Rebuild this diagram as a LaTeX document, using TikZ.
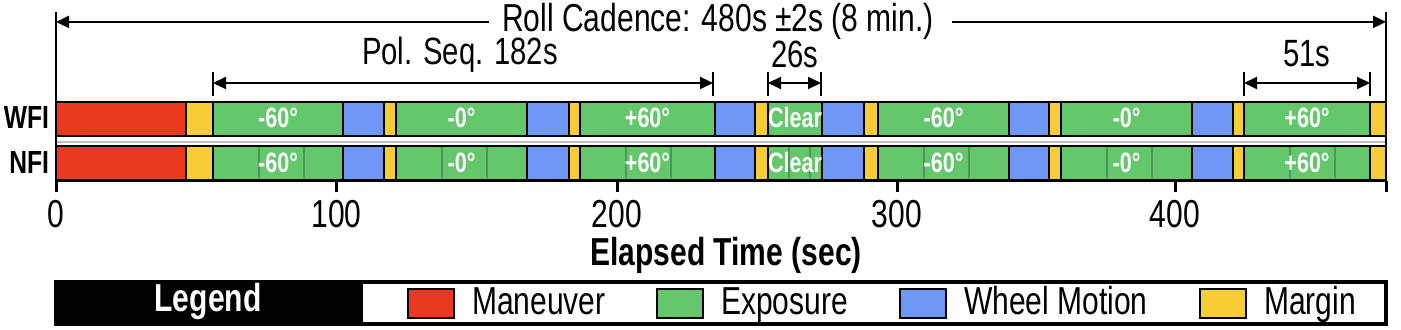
\documentclass[tikz,border=0pt]{standalone}
\usepackage{fontspec}
\setmainfont{Liberation Sans}[FakeStretch=0.77]
\usetikzlibrary{arrows.meta}
\definecolor{maneuver}{RGB}{233,58,31}
\definecolor{exposure}{RGB}{100,199,108}
\definecolor{wheel}{RGB}{111,152,246}
\definecolor{margin}{RGB}{246,205,55}
\definecolor{divider}{RGB}{78,148,94}
\tikzset{
  seg/.style={draw=black,line width=1.4pt},
  txt/.style={inner sep=0pt,outer sep=0pt,anchor=base,font=\fontsize{19.5}{23.4}\selectfont},
  rowlbl/.style={inner sep=0pt,outer sep=0pt,anchor=base east,font=\bfseries\fontsize{16}{19.2}\selectfont},
  seglbl/.style={inner sep=0pt,outer sep=0pt,anchor=base,text=white,font=\bfseries\fontsize{14}{16.8}\selectfont},
  dim/.style={line width=1pt,{Triangle[length=6.5pt,width=6pt]}-{Triangle[length=6.5pt,width=6pt]}},
  tip/.style={line width=1pt,-{Triangle[length=6.5pt,width=6pt]}},
  bar/.style={line width=1pt},
  swatch/.style={draw=black,line width=1pt},
}
\begin{document}
\begin{tikzpicture}[x=.5pt,y=-.5pt]
\path[use as bounding box] (0,0) rectangle (1401,330);
% timeline bars
\foreach \yt/\yb in {102/136,146/180}{
  \foreach \xa/\xb/\c in {56/186/maneuver,186/213/margin,213/343/exposure,343/384/wheel,384/396/margin,
    396/527/exposure,527/569/wheel,569/580/margin,580/715/exposure,715/755/wheel,755/768/margin,
    768/822/exposure,822/864/wheel,864/878/margin,878/1009/exposure,1009/1049/wheel,1049/1061/margin,
    1061/1192/exposure,1192/1233/wheel,1233/1244/margin,1244/1370/exposure,1370/1386/margin}
    \path[seg,fill=\c] (\xa,\yt) rectangle (\xb,\yb);
}
\draw[black!25,line width=0.6pt] (56,142) -- (1386,142);
% NFI sub-exposures
\foreach \s in {213,396,580,878,1061,1244}{
  \draw[divider,line width=1pt] ({\s+46},147.5) -- ({\s+46},178.5);
  \draw[divider,line width=1pt] ({\s+91},147.5) -- ({\s+91},178.5);
}
\draw[divider,line width=1pt] (789,147.5) -- (789,178.5);
\draw[divider,line width=1pt] (810,147.5) -- (810,178.5);
% exposure labels
\foreach \xa/\xb/\lbl [count=\i] in {213/343/-60°,396/527/-0°,580/715/+60°,768/822/Clear,878/1009/-60°,1061/1192/-0°,1244/1370/+60°}{
  \node[seglbl] (wfi-\i) at ({(\xa+\xb)/2},127.5) {\lbl};
  \node[seglbl] (nfi-\i) at ({(\xa+\xb)/2},172.5) {\lbl};
}
\node[rowlbl] (wfi) at (49,129) {WFI};
\node[rowlbl] (nfi) at (49,174) {NFI};
% frame and axis
\draw[line width=1pt] (56,12) -- (56,181);
\draw[line width=1pt] (1386,12) -- (1386,181);
\draw[line width=1.5pt] (56,181) -- (1386,181);
\foreach \x/\t in {56/0,336.5/100,617/200,897/300,1175/400}{
  \draw[line width=1.5pt] (\x,181) -- (\x,192);
  \node[txt] (tick-\t) at (\x,228) {\t};
}
\draw[line width=1.5pt] (1386,181) -- (1386,192);
\node[txt,font=\bfseries\fontsize{19.5}{23.4}\selectfont] (xlabel) at (726,266) {Elapsed Time (sec)};
% roll cadence
\coordinate (cad-l) at (56,23);
\coordinate (cad-r) at (1386,23);
\node[txt] (cad) at (718,32) {Roll Cadence: 480s ±2s (8 min.)};
\draw[tip] ([xshift=-6.5pt]cad.west) -- (cad.west -| cad-l);
\draw[tip] ([xshift=9pt]cad.east) -- (cad.east -| cad-r);
% polarization sequence
\coordinate (pol-a) at (213,83);
\coordinate (pol-b) at (713,83);
\draw[dim] (pol-a) -- (pol-b);
\node[txt,font=\fontsize{19}{22.8}\selectfont] (pol) at (460,65) {Pol. Seq. 182s};
% clear
\coordinate (clr-a) at (768,83);
\coordinate (clr-b) at (821,83);
\draw[dim] (clr-a) -- (clr-b);
\node[txt,font=\fontsize{19}{22.8}\selectfont] (clr) at (795,68) {26s};
% last exposure
\coordinate (last-a) at (1244,83);
\coordinate (last-b) at (1370,83);
\draw[dim] (last-a) -- (last-b);
\node[txt,font=\fontsize{19}{22.8}\selectfont] (last) at (1307,67) {51s};
\foreach \p in {pol-a,pol-b,clr-a,clr-b,last-a,last-b}
  \draw[bar] ([yshift=5.5pt]\p) -- ([yshift=-6.5pt]\p);
% legend
\path[fill=black] (54,280) rectangle (363,326);
\draw[line width=2pt] (56,282) rectangle (1386,324);
\node[txt,text=white,font=\bfseries\fontsize{19.5}{23.4}\selectfont] (legend) at (208,312) {Legend};
\foreach \xs/\c/\t in {408/maneuver/Maneuver,657/exposure/Exposure,900/wheel/Wheel Motion,1200/margin/Margin}{
  \path[swatch,fill=\c] (\xs,289) rectangle ({\xs+46},318);
  \node[txt,anchor=base west] (key-\c) at ({\xs+64},315) {\t};
}
\end{tikzpicture}
\end{document}
